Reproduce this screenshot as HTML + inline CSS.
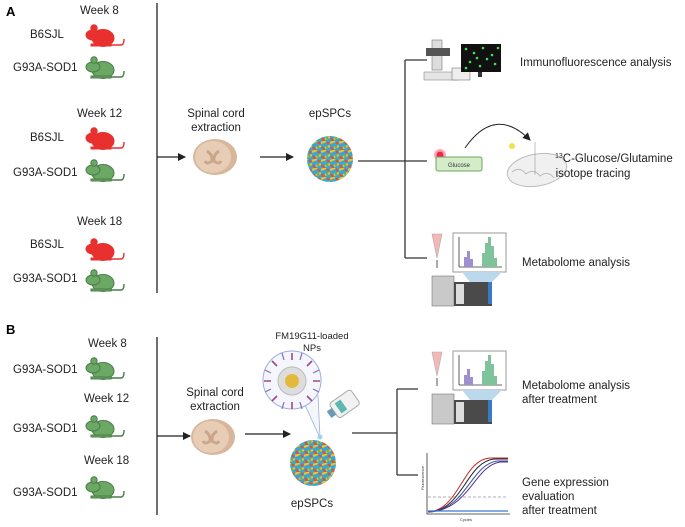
<!DOCTYPE html>
<html><head><meta charset="utf-8"><style>
html,body{margin:0;padding:0;background:#fff;}
svg{display:block;font-family:"Liberation Sans",sans-serif;}
</style></head><body>
<svg width="685" height="527" viewBox="0 0 685 527" xmlns="http://www.w3.org/2000/svg">
<defs>
<g id="mouse">
 <ellipse cx="18" cy="15" rx="11" ry="8.5"/>
 <ellipse cx="8" cy="12" rx="7" ry="5"/>
 <circle cx="9" cy="5" r="3.2"/>
 <path d="M6,21 h20 v2 h-20z"/>
 <path d="M26,22 H36 Q39,22 39,16" fill="none" stroke-width="1.4"/>
</g>
<g id="redm" fill="#e8312f" stroke="#e8312f"><use href="#mouse"/></g>
<g id="grnm" fill="#6aa863" stroke="#4a7d49"><use href="#mouse"/></g>
<radialGradient id="sph" cx="0.4" cy="0.4" r="0.7">
 <stop offset="0" stop-color="#ffffff" stop-opacity="0"/><stop offset="0.85" stop-color="#ffffff" stop-opacity="0"/><stop offset="1" stop-color="#3a6a30" stop-opacity="0.6"/>
</radialGradient>
<pattern id="dots" width="9" height="9" patternUnits="userSpaceOnUse">
 <rect width="9" height="9" fill="#3aa6d6"/>
 <path d="M0,2 L5,0 M4,7 L9,5" stroke="#f2c21e" stroke-width="2.2"/>
 <path d="M1,6 L3,9 M6,1 L8,3" stroke="#e4502a" stroke-width="2.2"/>
 <circle cx="6" cy="6" r="1.2" fill="#6cb84a"/>
</pattern>
<g id="sphere">
 <circle r="23" fill="url(#dots)"/>
 <circle r="23" fill="url(#sph)"/>
</g>
<g id="cord">
 <ellipse cx="0" cy="0" rx="22" ry="18" fill="#d7b69a"/>
 <ellipse cx="-2" cy="0" rx="18" ry="16" fill="#e8cdb6"/>
 <path d="M-8,-6 Q-2,-2 -3,4 Q-8,8 -10,4 M4,-6 Q-2,-2 -1,4 Q4,8 6,4" stroke="#c9a68c" stroke-width="3" fill="none"/>
</g>
<marker id="ar" markerWidth="8" markerHeight="8" refX="7" refY="4" orient="auto" markerUnits="userSpaceOnUse">
 <path d="M0,0 L8,4 L0,8z" fill="#222"/>
</marker>
<g id="metab">
 <path d="M0,0 h10 l-5,24 z" fill="#f4b8b8" stroke="#aaa" stroke-width="0.6"/>
 <line x1="5" y1="26" x2="5" y2="34" stroke="#555"/>
 <rect x="21" y="-1" width="53" height="39" fill="#fff" stroke="#999"/>
 <line x1="27" y1="3" x2="27" y2="33" stroke="#333" stroke-width="0.8"/>
 <line x1="27" y1="33" x2="70" y2="33" stroke="#333" stroke-width="0.8"/>
 <path d="M32,33 v-10 h3 v-6 h3 v8 h3 v8z" fill="#9e8fd0"/>
 <path d="M50,33 v-14 h3 v-10 h3 v-6 h3 v9 h3 v12 h3 v9z" fill="#7ec39a"/>
 <path d="M30,38 h40 l-10,10 h-22z" fill="#bcd8ec"/>
 <rect x="0" y="42" width="22" height="30" fill="#c9c9c9" stroke="#777" stroke-width="0.6"/>
 <rect x="22" y="48" width="38" height="24" fill="#4a4a4a"/>
 <rect x="24" y="50" width="8" height="20" fill="#ddd"/>
 <rect x="56" y="48" width="4" height="22" fill="#3a7ac0"/>
</g>
</defs>

<!-- Panel A -->
<text x="6" y="16" font-size="13" font-weight="bold">A</text>
<g font-size="11.5" fill="#222">
<text x="80" y="14">Week 8</text>
<text x="30" y="38">B6SJL</text>
<text x="13" y="71">G93A-SOD1</text>
<text x="77" y="117">Week 12</text>
<text x="30" y="141">B6SJL</text>
<text x="13" y="176">G93A-SOD1</text>
<text x="77" y="225">Week 18</text>
<text x="30" y="248">B6SJL</text>
<text x="13" y="282">G93A-SOD1</text>
</g>
<use href="#redm" x="85" y="23"/>
<use href="#grnm" x="85" y="55"/>
<use href="#redm" x="85" y="126"/>
<use href="#grnm" x="85" y="158"/>
<use href="#redm" x="85" y="237"/>
<use href="#grnm" x="85" y="268"/>
<line x1="157" y1="3" x2="157" y2="293" stroke="#222" stroke-width="1.3"/>
<line x1="157" y1="157" x2="185" y2="157" stroke="#222" stroke-width="1.3" marker-end="url(#ar)"/>
<g font-size="11.5" fill="#222" text-anchor="middle">
<text x="216" y="117">Spinal cord</text>
<text x="216" y="131">extraction</text>
<text x="330" y="117">epSPCs</text>
</g>
<use href="#cord" x="215" y="157"/>
<line x1="260" y1="157" x2="293" y2="157" stroke="#222" stroke-width="1.3" marker-end="url(#ar)"/>
<use href="#sphere" x="330" y="159"/>
<path d="M358,161 H405 M405,60 V258 M405,60 H427 M405,161 H427 M405,258 H427" stroke="#333" stroke-width="1.3" fill="none"/>
<!-- microscope -->
<g>
 <rect x="432" y="40" width="10" height="30" fill="#ddd" stroke="#777" stroke-width="0.6"/>
 <rect x="426" y="48" width="24" height="8" fill="#555"/>
 <rect x="424" y="72" width="34" height="8" fill="#e5e5e5" stroke="#888" stroke-width="0.6"/>
 <rect x="452" y="68" width="18" height="12" fill="#eee" stroke="#777" stroke-width="0.6"/>
 <rect x="461" y="44" width="40" height="28" fill="#111"/>
 <g fill="#3ee05a"><circle cx="466" cy="49" r="1.3"/><circle cx="474" cy="53" r="1.3"/><circle cx="483" cy="48" r="1.3"/><circle cx="492" cy="55" r="1.3"/><circle cx="470" cy="62" r="1.3"/><circle cx="480" cy="66" r="1.3"/><circle cx="495" cy="64" r="1.3"/><circle cx="487" cy="59" r="1.3"/><circle cx="466" cy="68" r="1.3"/><circle cx="498" cy="48" r="1.3"/><circle cx="477" cy="58" r="1.3"/></g>
 <rect x="478" y="72" width="4" height="5" fill="#333"/>
</g>
<text x="520" y="66" font-size="11.5" fill="#222">Immunofluorescence analysis</text>
<!-- glucose -->
<circle cx="440" cy="155" r="6" fill="#ff4d6d" opacity="0.5"/>
<circle cx="440" cy="155" r="3.5" fill="#f0284a"/>
<rect x="436" y="157" width="46" height="14" rx="2" fill="#d4ecc9" stroke="#6aa85a"/>
<text x="459" y="167" font-size="6" text-anchor="middle" fill="#333">Glucose</text>
<path d="M465,148 Q495,105 530,140" fill="none" stroke="#222" stroke-width="1" marker-end="url(#ar)"/>
<ellipse cx="537" cy="170" rx="30" ry="16" fill="#f0f0f0" stroke="#bbb" transform="rotate(-10 537 170)"/>
<path d="M512,172 q8,-6 14,2 q8,-6 14,2 q8,-6 14,2" fill="none" stroke="#bbb"/>
<line x1="535" y1="142" x2="535" y2="175" stroke="#999" stroke-width="0.6"/>
<circle cx="512" cy="146" r="3" fill="#f4e04a"/>
<text x="555" y="162" font-size="11.5" fill="#222"><tspan font-size="7" dy="-4">13</tspan><tspan dy="4">C-Glucose/Glutamine</tspan></text>
<text x="593" y="177" font-size="11.5" fill="#222" text-anchor="middle">isotope tracing</text>
<use href="#metab" x="432" y="234"/>
<text x="522" y="266" font-size="11.5" fill="#222">Metabolome analysis</text>

<!-- Panel B -->
<text x="6" y="334" font-size="13" font-weight="bold">B</text>
<g font-size="11.5" fill="#222">
<text x="88" y="347">Week 8</text>
<text x="13" y="373">G93A-SOD1</text>
<text x="84" y="402">Week 12</text>
<text x="13" y="432">G93A-SOD1</text>
<text x="84" y="464">Week 18</text>
<text x="13" y="496">G93A-SOD1</text>
</g>
<use href="#grnm" x="85" y="356"/>
<use href="#grnm" x="85" y="414"/>
<use href="#grnm" x="85" y="475"/>
<line x1="157" y1="337" x2="157" y2="515" stroke="#222" stroke-width="1.3"/>
<line x1="157" y1="436" x2="190" y2="436" stroke="#222" stroke-width="1.3" marker-end="url(#ar)"/>
<g font-size="11.5" fill="#222" text-anchor="middle">
<text x="215" y="396">Spinal cord</text>
<text x="215" y="410">extraction</text>
<text x="312" y="507">epSPCs</text>
</g>
<g font-size="9.5" fill="#222" text-anchor="middle">
<text x="312" y="339">FM19G11-loaded</text>
<text x="312" y="351">NPs</text>
</g>
<use href="#cord" x="213" y="437"/>
<line x1="245" y1="434" x2="290" y2="434" stroke="#222" stroke-width="1.3" marker-end="url(#ar)"/>
<path d="M305,405 L320,438 L318,395" fill="#f4f6fb" stroke="#9ab0d8" stroke-width="0.8"/>
<circle cx="292" cy="380" r="29" fill="#f4f6fb" stroke="#9ab0d8"/>
<circle cx="292" cy="381" r="14" fill="#ddd" stroke="#bbb"/>
<circle cx="292" cy="381" r="7" fill="#e2b93a"/>
<g stroke="#a04a8a" stroke-width="1.6" fill="none">
<path d="M292,360 v-7 M271,381 h-7 M313,381 h7 M292,402 v7 M277,366 l-5,-5 M307,366 l5,-5 M277,396 l-5,5 M307,396 l5,5"/>
</g>
<g stroke="#8a6ac0" stroke-width="1.2" fill="none">
<path d="M284,360 l-2,-7 M300,360 l2,-7 M271,373 l-6,-3 M313,373 l6,-3 M271,389 l-6,3 M313,389 l6,3 M284,402 l-2,7 M300,402 l2,7"/>
</g>
<circle cx="320" cy="437" r="2.5" fill="#9fd3ea"/>
<g transform="rotate(-35 343 405)"><rect x="332" y="396" width="26" height="18" rx="3" fill="#f2f2f2" stroke="#aaa"/><rect x="337" y="399" width="7" height="12" fill="#5cb8b0"/><rect x="326" y="401" width="6" height="8" fill="#6a9ab8"/></g>
<use href="#sphere" x="313" y="463"/>
<path d="M352,433 H397 M397,389 V475 M397,389 H418 M397,475 H418" stroke="#333" stroke-width="1.3" fill="none"/>
<use href="#metab" x="432" y="352"/>
<g font-size="11.5" fill="#222">
<text x="522" y="389">Metabolome analysis</text>
<text x="522" y="403">after treatment</text>
<text x="522" y="486">Gene expression</text>
<text x="522" y="500">evaluation</text>
<text x="522" y="514">after treatment</text>
</g>
<!-- qPCR -->
<g fill="none">
<path d="M427,453 V514 H510" stroke="#333" stroke-width="0.8"/>
<line x1="428" y1="497" x2="508" y2="497" stroke="#999" stroke-dasharray="3,2" stroke-width="0.7"/>
<path d="M428,512 C460,510 462,460 490,458 H508" stroke="#c03030"/>
<path d="M428,512 C463,511 466,462 494,459 H508" stroke="#222"/>
<path d="M428,512 C466,511 470,465 497,461 H508" stroke="#3050b0"/>
<path d="M428,512 C469,511 474,466 500,462 H508" stroke="#5a3080"/>
<path d="M428,511 H508" stroke="#3a7ad0" stroke-width="1.3"/>
</g>
<text x="424" y="490" font-size="4" transform="rotate(-90 424 490)" fill="#333">Fluorescence</text>
<text x="466" y="521" font-size="4" text-anchor="middle" fill="#333">Cycles</text>
</svg>
</body></html>
